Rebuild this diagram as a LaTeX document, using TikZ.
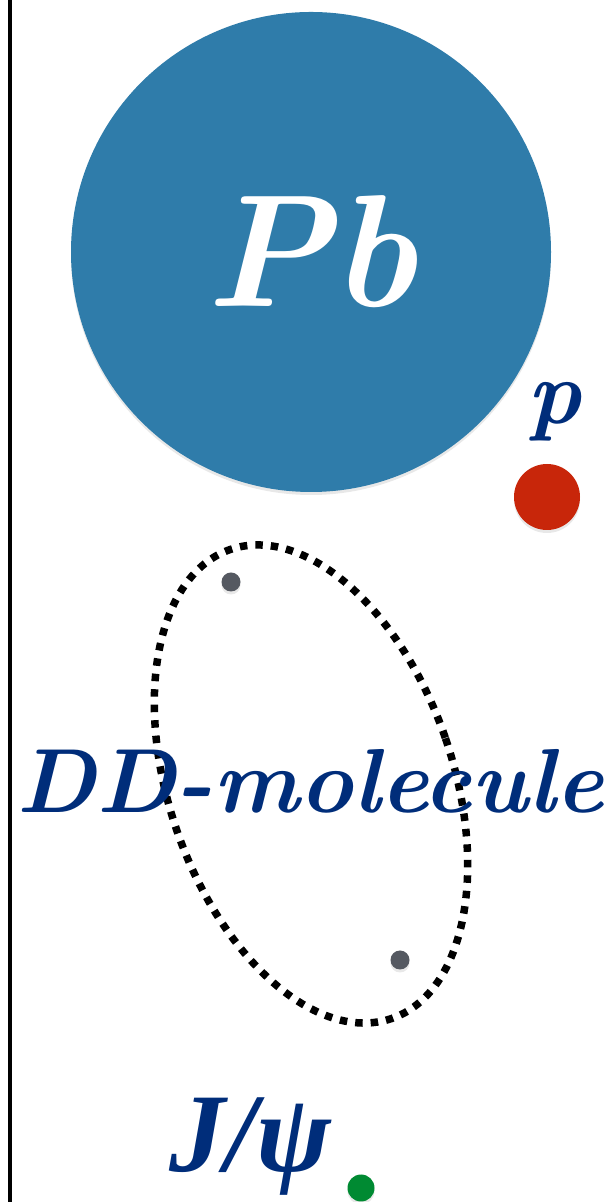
\documentclass[tikz,border=0pt]{standalone}
\usepackage{fontspec}
\usepackage{tikz}
\usetikzlibrary{shadows}
\newfontfamily\psifont{Liberation Serif}
\definecolor{leadBlue}{RGB}{47,124,170}
\definecolor{labelNavy}{RGB}{0,45,122}
\definecolor{protonRed}{RGB}{200,38,10}
\definecolor{psiGreen}{RGB}{0,138,50}
\definecolor{mesonGray}{RGB}{85,89,97}

\begin{document}
\begin{tikzpicture}[x=1pt,y=1pt,
        lbl/.style={text=labelNavy,anchor=base,inner sep=0pt,
                    font=\fontsize{91}{93}\selectfont\bfseries\itshape},
        ball/.style={circle,inner sep=0pt,
                     drop shadow={opacity=0.18,shadow xshift=0pt,shadow yshift=-3pt}},
        ring/.style={line width=7.5pt,dash pattern=on 7.5pt off 8pt,black}]
        \useasboundingbox (0,0) rectangle (611,1202);
        \coordinate (wtop) at (10,1202);
        \coordinate (wbot) at (10,0);
        \draw[line width=4pt] (wtop) -- (wbot);
        % nucleus
        \node[ball,fill=leadBlue,minimum size=480pt,text=white,
              font=\fontsize{160}{160}\selectfont\bfseries\itshape] (pb) at (311,950) {Pb};
        % proton
        \node[ball,fill=protonRed,minimum size=66pt] (p) at (547,705) {};
        \node[lbl] (plbl) at (554,778) {p};
        % molecule
        \coordinate (mol) at (311,418);
        \draw[ring,rotate around={19:(mol)}] (mol) ellipse (142 and 248);
        \foreach \n/\x/\y in {d1/231/620,d2/400/242}
          \node[ball,fill=mesonGray,minimum size=19pt] (\n) at (\x,\y) {};
        \node[lbl] (mollbl) at (310,389) {DD-molecule};
        % charmonium
        \node[ball,fill=psiGreen,minimum size=27pt] (psi) at (361,14) {};
        \node[lbl,font=\fontsize{112}{114}\psifont\bfseries\itshape] (psilbl) at (250,30) {J/ψ};
      \end{tikzpicture}
\end{document}
